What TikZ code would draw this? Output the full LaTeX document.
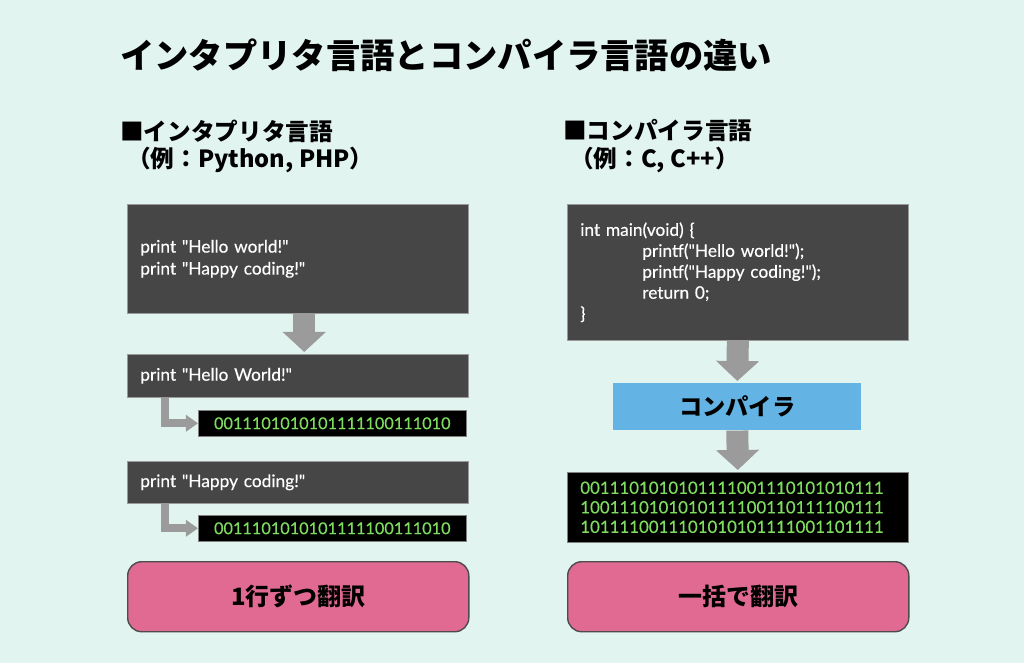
\documentclass[tikz,border=0pt]{standalone}
\usepackage{fontspec}
\setmainfont{Lato}
\newfontfamily\codefont[FakeBold=0.4]{Lato}
\newfontfamily\jp{Noto Sans CJK JP}
\usetikzlibrary{positioning, arrows.meta}
\definecolor{bgmint}{HTML}{E2F4F0}
\definecolor{codegray}{HTML}{464646}
\definecolor{bingreen}{HTML}{7EDD5E}
\definecolor{arrowgray}{HTML}{9B9B9B}
\definecolor{transpink}{HTML}{E16A93}
\definecolor{compblue}{HTML}{63B4E4}

\begin{document}
\begin{tikzpicture}[x=0.025cm, y=-0.025cm,
  codebox/.style={draw=gray!80, fill=codegray, text=white, anchor=north west, inner xsep=0.325cm, text width=7.875cm, align=left, font=\codefont\fontsize{12.3}{15.6}\selectfont},
  binbox/.style={draw=gray, fill=black, text=bingreen, anchor=north west, inner sep=0pt, font=\codefont\fontsize{11.6}{13.9}\selectfont},
  transbox/.style={draw=gray!60!black, line width=1pt, fill=transpink, rounded corners=0.35cm, anchor=north west, minimum width=8.525cm, minimum height=1.75cm, font=\jp\bfseries\fontsize{17}{20}\selectfont},
  heading/.style={anchor=west, inner sep=0pt, font=\jp\bfseries\fontsize{16.8}{20}\selectfont},
  blockarrow/.style={arrowgray, line width=0.55cm, -{Triangle[width=1.05cm, length=0.5cm]}},
  elbowarrow/.style={arrowgray, line width=0.2cm, -{Triangle[width=0.4cm, length=0.3cm]}}]
\fill[bgmint] (0,0) rectangle (1024,663);
% title and headings
\node[anchor=west, inner sep=0pt, font=\jp\bfseries\fontsize{24.4}{28}\selectfont] (title) at (120,55) {インタプリタ言語とコンパイラ言語の違い};
\node[heading] (lhead) at (120,131) {■インタプリタ言語};
\node[heading] (lsub) at (127,160) {（例：Python, PHP）};
\node[heading] (rhead) at (563,131) {■コンパイラ言語};
\node[heading] (rsub) at (570,160) {（例：C, C++）};

% interpreter side
\node[codebox, minimum height=2.725cm] (lcode) at (127,204) {print "Hello world!"\\print "Happy coding!"};
\node[codebox, minimum height=1.075cm] (lline1) at (127,354) {print "Hello World!"};
\node[binbox, minimum width=6.7cm, minimum height=0.65cm] (lbin1) at (198,410) {0011101010101111100111010};
\node[codebox, minimum height=1.05cm] (lline2) at (127,461) {print "Happy coding!"};
\node[binbox, minimum width=6.7cm, minimum height=0.65cm] (lbin2) at (198,515) {0011101010101111100111010};
\node[transbox] (ltrans) at (127,561) {1行ずつ翻訳};
\draw[blockarrow] ([xshift=0.16cm]lcode.south) -- ([xshift=0.16cm, yshift=0.05cm]lline1.north);
\draw[elbowarrow] ([xshift=0.95cm]lline1.south west) |- (lbin1.west);
\draw[elbowarrow] ([xshift=0.95cm]lline2.south west) |- (lbin2.west);

% compiler side
\node[codebox, minimum height=3.4cm, font=\codefont\fontsize{12.3}{14.9}\selectfont] (rcode) at (567,204) {int main(void) \{\\
\hspace*{1.55cm}printf("Hello world!");\\
\hspace*{1.55cm}printf("Happy coding!");\\
\hspace*{1.55cm}return 0;\\
\}};
\node[fill=compblue, anchor=north west, minimum width=6.2cm, minimum height=1.175cm, font=\jp\bfseries\fontsize{16.5}{20}\selectfont] (rcomp) at (613,383) {コンパイラ};
\node[binbox, inner xsep=0.325cm, text width=7.875cm, align=left, minimum height=1.75cm, font=\codefont\fontsize{12}{13.9}\selectfont] (rbin) at (567,472) {0011101010101111001110101010111\\1001110101010111100110111100111\\1011110011101010101111001101111};
\node[transbox] (rtrans) at (567,561) {一括で翻訳};
\draw[blockarrow] (rcode.south) -- ([yshift=0.05cm]rcomp.north);
\draw[blockarrow] (rcomp.south) -- ([yshift=0.05cm]rbin.north);
\end{tikzpicture}
\end{document}
